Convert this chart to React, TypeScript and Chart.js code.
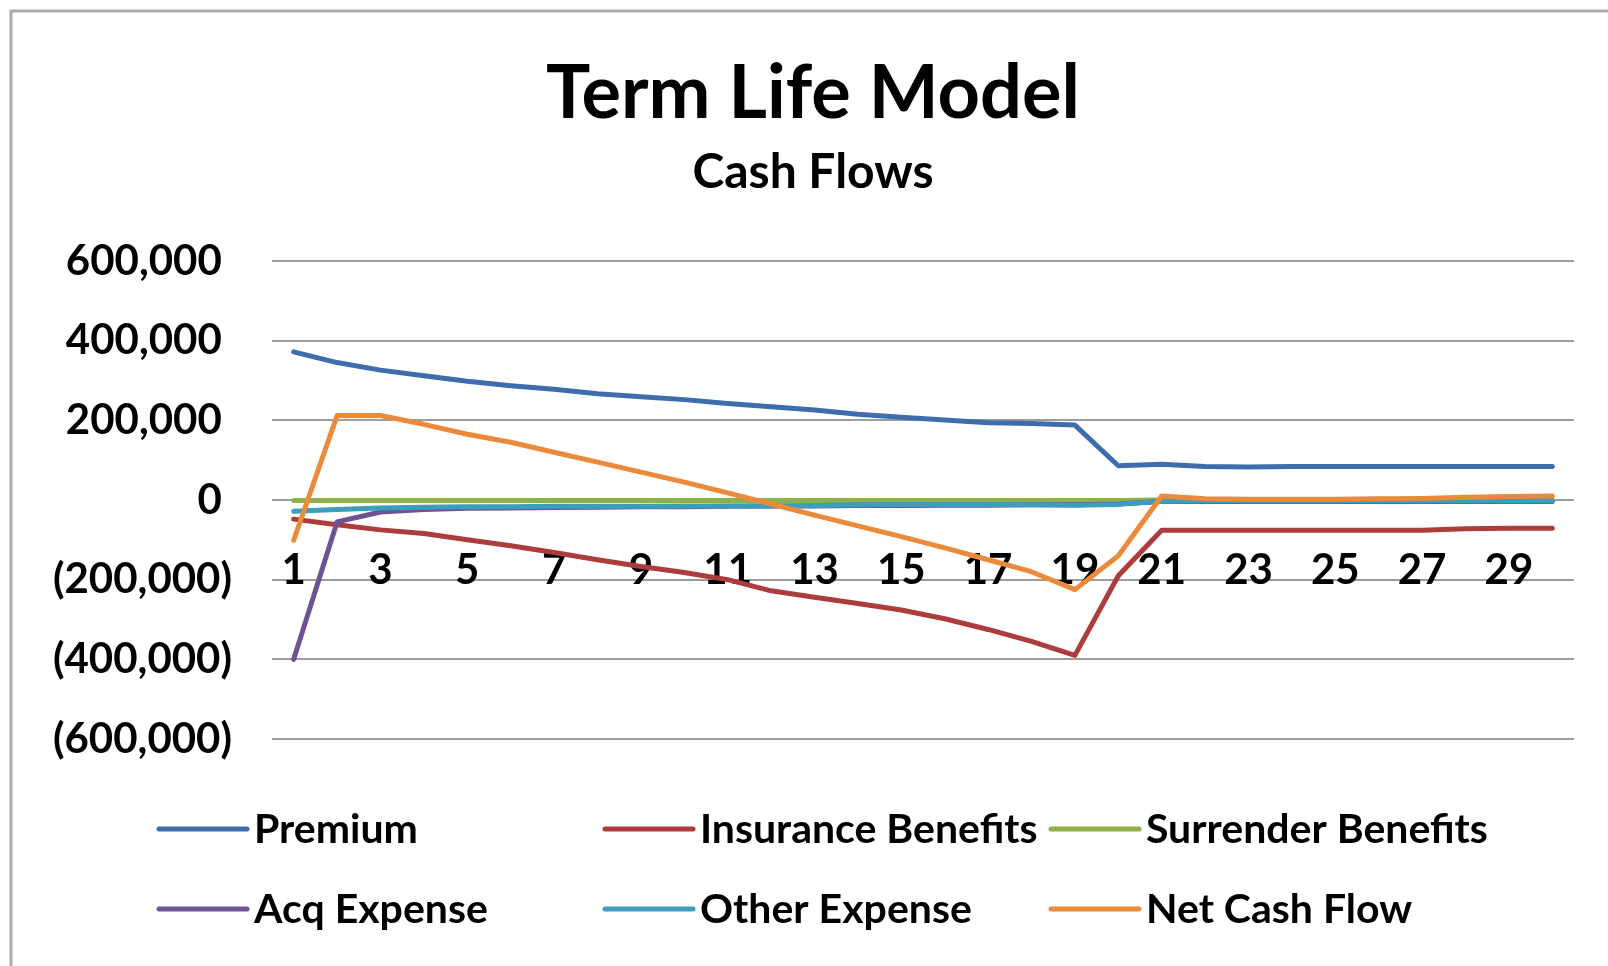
import React, { useEffect, useRef } from "react";
import { Chart, registerables } from "chart.js";

Chart.register(...registerables);

const titleText = "Term Life Model";
const subtitleText = "Cash Flows";

const years = [
  "1", "2", "3", "4", "5", "6", "7", "8", "9", "10",
  "11", "12", "13", "14", "15", "16", "17", "18", "19", "20",
  "21", "22", "23", "24", "25", "26", "27", "28", "29", "30",
];
const shownYearTicks = ["1", "3", "5", "7", "9", "11", "13", "15", "17", "19", "21", "23", "25", "27", "29"];

const yMin = -600000;
const yMax = 600000;
const yStep = 200000;

const premium = [
  372000, 345000, 326000, 312000, 298000, 287000, 278000, 267000, 259000, 252000,
  242000, 234000, 226000, 215000, 208000, 201000, 194000, 192000, 188000, 86000,
  90000, 84000, 83000, 84000, 84000, 84000, 84000, 84000, 84000, 84000,
];
const insuranceBenefits = [
  -48000, -62000, -75000, -84000, -100000, -115000, -132000, -150000, -167000, -182000,
  -200000, -228000, -244000, -260000, -276000, -298000, -325000, -355000, -390000, -190000,
  -76000, -76000, -76000, -76000, -76000, -76000, -76000, -72000, -71000, -71000,
];
const surrenderBenefits = [
  -1000, -1000, -1000, -1000, -1000, -1000, -1000, -1000, -1000, -1000,
  -1000, -1000, -1000, -1000, -1000, -1000, -1000, -1000, -1000, -1000,
  0, 0, 0, 0, 0, 0, 0, 0, 0, 0,
];
const acqExpense = [
  -400000, -55000, -30000, -24000, -21000, -20000, -19000, -18000, -17000, -17000,
  -16000, -15000, -15000, -14000, -14000, -13000, -13000, -12000, -12000, -10000,
  -4000, -4000, -4000, -4000, -4000, -4000, -4000, -4000, -4000, -4000,
];
const otherExpense = [
  -28000, -24000, -20000, -18000, -17000, -17000, -16000, -16000, -16000, -15000,
  -15000, -15000, -14000, -12000, -11000, -11000, -11000, -12000, -13000, -11000,
  -3000, -2000, -2000, -2000, -2000, -2000, -2000, -2000, -2000, -2000,
];
const netCashFlow = [
  -101000, 212000, 212000, 190000, 165000, 145000, 120000, 95000, 70000, 45000,
  18000, -10000, -38000, -65000, -92000, -120000, -150000, -180000, -225000, -140000,
  10000, 3000, 2000, 2000, 2000, 3000, 4000, 7000, 9000, 10000,
];

const seriesNames = [
  "Premium",
  "Insurance Benefits",
  "Surrender Benefits",
  "Acq Expense",
  "Other Expense",
  "Net Cash Flow",
];
const seriesValues = [premium, insuranceBenefits, surrenderBenefits, acqExpense, otherExpense, netCashFlow];
const seriesColors = ["#3E6DAD", "#AD3C3D", "#8DB04B", "#6F5296", "#3C9EBD", "#EB8A3A"];

const FONT = "Lato, 'Open Sans', sans-serif";

const frameAndLegend = {
  id: "frameAndLegend",
  afterDraw(chart: any) {
    const ctx = chart.ctx;
    ctx.save();
    // outer frame (top and left edges visible)
    ctx.strokeStyle = "#ababab";
    ctx.lineWidth = 3;
    ctx.beginPath();
    ctx.moveTo(11, chart.height + 5);
    ctx.lineTo(11, 11);
    ctx.lineTo(chart.width + 5, 11);
    ctx.stroke();

    // legend in fixed columns, 2 rows
    const colX = [159, 605, 1051];
    const rowY = [829, 909];
    ctx.font = "bold 41px " + FONT;
    ctx.textBaseline = "middle";
    ctx.textAlign = "left";
    chart.data.datasets.forEach((ds: any, i: number) => {
      const x = colX[i % 3];
      const y = rowY[Math.floor(i / 3)];
      ctx.strokeStyle = ds.borderColor;
      ctx.lineWidth = 5;
      ctx.lineCap = "round";
      ctx.beginPath();
      ctx.moveTo(x, y);
      ctx.lineTo(x + 88, y);
      ctx.stroke();
      ctx.fillStyle = "#000";
      ctx.fillText(ds.label, x + 95, y + 1);
    });
    ctx.restore();
  },
};

function fmt(v: number): string {
  const s = Math.abs(v).toLocaleString("en-US");
  if (v < 0) return "(" + s + ")";
  return s + " ";
}

export default function App() {
  const ref = useRef<HTMLCanvasElement | null>(null);

  useEffect(() => {
    if (!ref.current) return;
    const chart = new Chart(ref.current, {
      type: "line",
      data: {
        labels: years,
        datasets: seriesNames.map((name, i) => ({
          label: name,
          data: seriesValues[i],
          borderColor: seriesColors[i],
          backgroundColor: seriesColors[i],
          borderWidth: 5,
          pointRadius: 0,
          pointHoverRadius: 0,
          tension: 0,
          fill: false,
          borderCapStyle: "round" as const,
          borderJoinStyle: "round" as const,
          order: seriesNames.length - i,
        })),
      },
      options: {
        responsive: false,
        animation: false,
        layout: { padding: { top: 0, left: 52, right: 34, bottom: 227 } },
        plugins: {
          legend: { display: false },
          tooltip: { enabled: false },
          title: {
            display: true,
            text: titleText,
            color: "#000",
            font: { family: FONT, size: 74, weight: "bold", lineHeight: 1.2 },
            padding: { top: 50, bottom: 0 },
          },
          subtitle: {
            display: true,
            text: subtitleText,
            color: "#000",
            font: { family: FONT, size: 48, weight: "bold", lineHeight: 1.2 },
            padding: { top: 5, bottom: 59.6 },
          },
        },
        scales: {
          x: {
            type: "category",
            position: { y: 0 } as any,
            offset: true,
            grid: { display: false },
            border: { display: false },
            ticks: {
              autoSkip: false,
              maxRotation: 0,
              minRotation: 0,
              padding: 37,
              color: "#000",
              font: { family: FONT, size: 42, weight: "bold" },
              callback: function (this: any, val: any) {
                const lab = this.getLabelForValue(val);
                return shownYearTicks.includes(lab) ? lab : "";
              },
            },
          },
          y: {
            min: yMin,
            max: yMax,
            afterFit: (s: any) => {
              s.width = 220;
            },
            grid: { color: "#9c9c9c", lineWidth: 2, drawTicks: false },
            border: { display: false },
            ticks: {
              stepSize: yStep,
              padding: 40,
              color: "#000",
              font: { family: FONT, size: 42, weight: "bold" },
              callback: (v: any) => fmt(Number(v)),
            },
          },
        },
      },
      plugins: [frameAndLegend],
    });
    return () => chart.destroy();
  }, []);

  return (
    <div style={{ position: "absolute", left: 0, top: 0, width: 1608, height: 966, background: "#fff" }}>
      <canvas ref={ref} width={1608} height={966} style={{ display: "block" }} />
    </div>
  );
}
